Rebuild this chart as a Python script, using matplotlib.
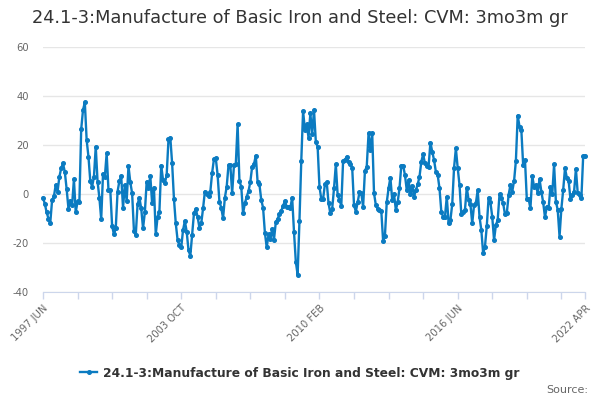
import matplotlib
matplotlib.use("Agg")
import matplotlib.pyplot as plt
import numpy as np

TITLE = "24.1-3:Manufacture of Basic Iron and Steel: CVM: 3mo3m gr"

# monthly values, 1997 JUN .. 2022 APR
values = [
    # 1997 JUN - 2000 NOV
    -1.5, -4, -7.5, -10, -11.7, -2.5, -1, 3.7, 1, 7, 10.5, 12.5, 9, 2, -6, -3,
    -4.5, 6, -7.5, -3, -3.4, 26.4, 34.3, 37.4, 22, 15.2, 5.3, 3, 7, 19.3, 5,
    -1.5, -10.3, 8.2, 7, 16.6, 1.6, 1.6, -13, -16.5, -14, 1,
    # 2000 DEC - 2004 JUN
    5.3, 7.3, -5.6, 3.7, -2.9, 11.4, 4.8, 0.3, -15, -16.7, -4.2, -1.5, -5.9,
    -14, -7.5, 5, 2.3, 7.3, -3.8, 2.6, -16.5, -9.3, -7.2, 11.6, 5.7, 4.4, 7.8,
    22.3, 23, 12.5, -2, -12, -18.8, -20.8, -21.8, -14.7, -11, -15.4, -22.9,
    -25.2, -16.7, -7.9, -6.1,
    # 2004 JUL - 2007 JUL
    -9.3, -13.7, -12, -5.9, 1, -0.1, -0.7, 1, 8.7, 14.3, 14.6, 7.8, -3.1, -5.6,
    -9.9, -1.5, 3, 11.8, 11.8, 0.3, 11.8, 12.1, 28.4, 5.3, 3, -7.9, -3.8, -1.1,
    1.2, 5, 11.2, 12.2, 15.6, 4.8, 3.9, -2.4, -5.6,
    # 2007 AUG - 2011 SEP
    -15.8, -21.8, -16.5, -18.4, -14.3, -18.6, -11.5, -10.2, -8.2, -6.9, -4.8,
    -2.9, -5.2, -5.2, -5.6, -1.5, -15.4, -27.6, -33, -11, 13.5, 33.9, 26.1,
    28.4, 23, 32.9, 24.4, 34.3, 21.4, 19.3, 3, -2, -2, 3.9, 4.8, -3.8, -7.9,
    -6.1, 2.3, 12.1, -0.4, -2.4, -4.8, 13.5, 13.9, 15.2, 13.2, 12.1, 10.7, -4.5,
    # 2011 OCT - 2015 FEB
    -7.2, -3.4, 0.7, 0.3, -5.2, 9.4, 11.2, 24.8, 18, 24.8, 0.3, -4.5, -6.1,
    -6.5, -6.9, -19.2, -17, -3.4, 2.3, 6.7, -2.4, -0.1, -6.5, -3.4, 2.3, 11.6,
    11.6, 7.8, 1.6, 5.7, -0.1, 3.4, -1.1, 1.6, 3.9, 7, 13.2, 16.2, 12.5, 11.4,
    11.2,
    # 2015 MAR - 2018 AUG
    21, 17.3, 13.9, 9.1, 7.8, 2.3, -7.2, -9.3, -9.3, -1.1, -11.7, -10.6, -4.2,
    10.7, 18.6, 10.7, 3.7, -8.3, -7.2, -6.5, 2.6, -2.4, -4.2, -12, -4.5, -3.8,
    1.6, -9.3, -14.7, -24.2, -21.5, -13.1, -1.5, -3.4, -9.3, -18.8, -12.7,
    -10.6, -0.1, -1.5, -3.8, -8.3,
    # 2018 SEP - 2022 APR
    -7.9, -0.4, 3.7, 1, 5.3, 13.5, 32, 27.5, 26.1, 11.8, 13.9, -2, -2, -5.9,
    7.3, 3, 3.7, 0.3, 6.1, 1, -3.4, -9.5, -5.2, -5.9, 3, -0.1, 12.1, -3.1,
    -6.5, -17.4, -6.1, 1.6, 10.5, 6.7, 5.3, -2, -0.4, 1, 10.2, 0.3, -0.4, -1.8,
    15.5, 15.5,
]

tick_pos = [0, 19, 38, 57, 76, 95, 114, 133, 152, 171, 190, 209, 228, 247, 266, 285, 298]
tick_labels = {0: "1997 JUN", 76: "2003 OCT", 152: "2010 FEB", 228: "2016 JUN", 298: "2022 APR"}
y_ticks = [-40, -20, 0, 20, 40, 60]

line_color = "#0b7bc1"
grid_color = "#e6e6e6"
text_grey = "#666666"

fig = plt.figure(figsize=(6, 4), dpi=100)
ax = fig.add_axes([43 / 600, 1 - 292 / 400, (585 - 43) / 600, (292 - 47) / 400])

x = np.arange(len(values))
ax.plot(x, values, color=line_color, lw=1.7, marker="o", ms=2.6,
        clip_on=False, zorder=3, label=TITLE)

ax.set_xlim(0, len(values) - 1)
ax.set_ylim(-40, 60)
ax.set_yticks(y_ticks)
ax.set_yticklabels([str(v) for v in y_ticks], fontsize=7.2, color=text_grey)
ax.yaxis.grid(True, color=grid_color, lw=1)
ax.set_axisbelow(True)
ax.tick_params(axis="y", length=0, pad=10)

ax.set_xticks(tick_pos)
ax.set_xticklabels([tick_labels.get(p, "") for p in tick_pos], fontsize=7.2,
                   color=text_grey, rotation=45, ha="right", rotation_mode="anchor")
ax.tick_params(axis="x", length=5, color="#ccd6eb", width=1, pad=3)

for side in ["top", "right", "left"]:
    ax.spines[side].set_visible(False)
ax.spines["bottom"].set_color("#ccd6eb")

fig.text(0.5, 1 - 18 / 400, TITLE, ha="center", va="center", fontsize=12.8, color="#333333")

fig.legend(loc="center", bbox_to_anchor=(0.5, 1 - 373 / 400), frameon=False,
           prop={"size": 8.8, "weight": "bold"}, labelcolor="#333333",
           handlelength=1.4, handletextpad=0.5)
fig.text(588 / 600, 1 - 390 / 400, "Source:", ha="right", va="center", fontsize=8, color=text_grey)

fig.savefig("out.png", dpi=100)
